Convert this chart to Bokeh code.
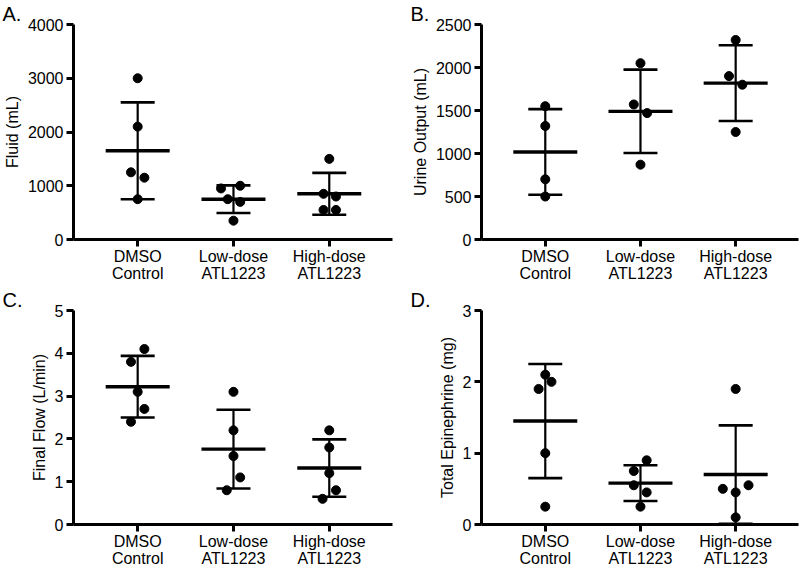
from bokeh.plotting import figure
from bokeh.layouts import gridplot
from bokeh.models import Range1d, FixedTicker, Title, Whisker, TeeHead, ColumnDataSource
from bokeh.embed import file_html
from bokeh.resources import INLINE

# ---------------- data ----------------
groups = ["DMSO\nControl", "Low-dose\nATL1223", "High-dose\nATL1223"]

# A. Fluid (mL)
fluid_dmso = [3000, 2100, 1250, 1150, 750]
fluid_low = [950, 1000, 750, 700, 350]
fluid_high = [1500, 850, 800, 550, 550]
fluid_mean = [1650, 750, 850]
fluid_sd = [901, 257, 389]
fluid_ticks = [0, 1000, 2000, 3000, 4000]

# B. Urine Output (mL)
urine_dmso = [1550, 1320, 700, 500]
urine_low = [2050, 1570, 1470, 870]
urine_high = [2320, 1900, 1800, 1250]
urine_mean = [1018, 1490, 1818]
urine_sd = [498, 485, 440]
urine_ticks = [0, 500, 1000, 1500, 2000, 2500]

# C. Final Flow (L/min)
flow_dmso = [4.1, 3.8, 3.1, 2.7, 2.4]
flow_low = [3.1, 2.2, 1.6, 1.1, 0.8]
flow_high = [2.2, 1.8, 1.2, 0.8, 0.6]
flow_mean = [3.22, 1.76, 1.32]
flow_sd = [0.72, 0.92, 0.67]
flow_ticks = [0, 1, 2, 3, 4, 5]

# D. Total Epinephrine (mg)
epi_dmso = [2.1, 2.0, 1.9, 1.0, 0.25]
epi_low = [0.9, 0.75, 0.55, 0.45, 0.25]
epi_high = [1.9, 0.5, 0.55, 0.45, 0.1]
epi_mean = [1.45, 0.58, 0.70]
epi_sd = [0.80, 0.25, 0.69]
epi_ticks = [0, 1, 2, 3]

# horizontal scatter of the dots (fraction of a category step)
jit_a = [[0, 0, -0.07, 0.07, 0], [-0.13, 0.07, -0.06, 0.07, 0], [0, -0.06, 0.07, -0.06, 0.07]]
jit_b = [[0, 0, 0, 0], [0, -0.07, 0.07, 0], [0, -0.07, 0.07, 0]]
jit_c = [[0.07, -0.07, 0, 0.07, -0.07], [0, 0, 0, 0.07, -0.07], [0, 0, 0, 0.07, -0.07]]
jit_d = [[0, 0.065, -0.07, 0, 0], [0.065, -0.07, -0.07, 0.065, 0], [0, -0.135, 0.135, 0, 0]]

FONT = "Liberation Sans"


def panel(letter, ylabel, ymax, ticks, values, jitter, means, sds,
          width, height, b_left, b_right, b_top, b_bottom):
    p = figure(width=width, height=height, output_backend="svg", toolbar_location=None,
               x_range=Range1d(-0.67, 2.66), y_range=Range1d(0, ymax))
    p.min_border_left = b_left
    p.min_border_right = b_right
    p.min_border_top = b_top
    p.min_border_bottom = b_bottom
    p.outline_line_color = None
    p.xgrid.visible = False
    p.ygrid.visible = False

    t = Title(text=letter, align="left", offset=-b_left - 2, standoff=0,
              text_font=FONT, text_font_size="20px", text_font_style="normal",
              text_color="black")
    p.add_layout(t, "above")

    xs, ys = [], []
    for i, (vals, jits) in enumerate(zip(values, jitter)):
        for v, j in zip(vals, jits):
            xs.append(i + j)
            ys.append(v)
    p.scatter(xs, ys, size=9, color="black")

    src = ColumnDataSource(dict(base=[0, 1, 2],
                                lower=[m - s for m, s in zip(means, sds)],
                                upper=[m + s for m, s in zip(means, sds)]))
    w = Whisker(source=src, base="base", lower="lower", upper="upper", dimension="height",
                line_width=2.2, line_color="black",
                upper_head=TeeHead(size=34, line_width=2.6, line_color="black"),
                lower_head=TeeHead(size=34, line_width=2.6, line_color="black"))
    p.add_layout(w)
    p.scatter([0, 1, 2], means, marker="dash", size=64, line_width=3.4, line_color="black")

    p.xaxis.ticker = FixedTicker(ticks=[0, 1, 2])
    p.xaxis.major_label_overrides = {i: g for i, g in enumerate(groups)}
    p.yaxis.ticker = FixedTicker(ticks=ticks)
    p.yaxis.axis_label = ylabel
    for ax in (p.xaxis[0], p.yaxis[0]):
        ax.axis_line_width = 3
        ax.axis_line_color = "black"
        ax.major_tick_line_width = 3
        ax.major_tick_line_color = "black"
        ax.major_tick_out = 7
        ax.major_tick_in = 0
        ax.minor_tick_line_color = None
        ax.major_label_text_font = FONT
        ax.major_label_text_font_size = "16px"
        ax.major_label_text_color = "black"
        ax.major_label_text_line_height = 1.0
        ax.axis_label_text_font = FONT
        ax.axis_label_text_font_size = "16px"
        ax.axis_label_text_font_style = "normal"
        ax.axis_label_text_color = "black"
        ax.axis_label_standoff = 4
    p.xaxis[0].major_label_standoff = 1
    p.yaxis[0].major_label_standoff = 3
    return p


W1, W2 = 408, 392
H1, H2 = 284, 285
pA = panel("A.", "Fluid (mL)", 4000, fluid_ticks, [fluid_dmso, fluid_low, fluid_high],
           jit_a, fluid_mean, fluid_sd, W1, H1, 69, 16, 24, 45)
pB = panel("B.", "Urine Output (mL)", 2500, urine_ticks, [urine_dmso, urine_low, urine_high],
           jit_b, urine_mean, urine_sd, W2, H1, 69, 2, 24, 45)
pC = panel("C.", "Final Flow (L/min)", 5, flow_ticks, [flow_dmso, flow_low, flow_high],
           jit_c, flow_mean, flow_sd, W1, H2, 69, 16, 26, 45)
pD = panel("D.", "Total Epinephrine (mg)", 3, epi_ticks, [epi_dmso, epi_low, epi_high],
           jit_d, epi_mean, epi_sd, W2, H2, 69, 2, 26, 45)

grid = gridplot([[pA, pB], [pC, pD]], toolbar_location=None)

open("out.html", "w").write(file_html(grid, INLINE))
